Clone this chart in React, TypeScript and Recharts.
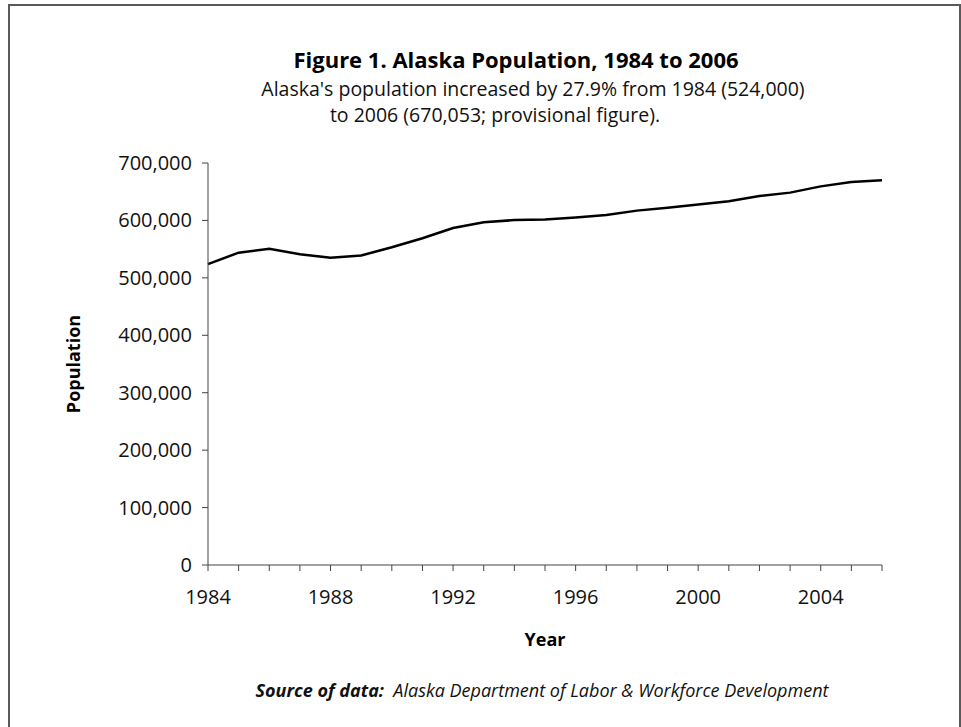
import React from 'react';
import { LineChart, Line, XAxis, YAxis } from 'recharts';

const years = [
  1984, 1985, 1986, 1987, 1988, 1989, 1990, 1991, 1992, 1993, 1994, 1995,
  1996, 1997, 1998, 1999, 2000, 2001, 2002, 2003, 2004, 2005, 2006,
];
const population = [
  524000, 543900, 550700, 541300, 535000, 538900, 553171, 569054, 586722,
  596906, 600622, 601581, 605212, 609655, 617082, 622000, 627533, 633316,
  642691, 648414, 659286, 666946, 670053,
];
const yTicks = [0, 100000, 200000, 300000, 400000, 500000, 600000, 700000];
const labelledYears = [1984, 1988, 1992, 1996, 2000, 2004];

const data = years.map((year, i) => ({ year, population: population[i] }));

const FONT = '"Open Sans", sans-serif';

const YearTick = (props: any) => {
  const { x, y, payload } = props;
  if (!labelledYears.includes(payload.value)) return null;
  return (
    <text x={x} y={y} dy={26} textAnchor="middle" fontFamily={FONT} fontSize={20} fill="#111">
      {payload.value}
    </text>
  );
};

const PopTick = (props: any) => {
  const { x, y, payload } = props;
  return (
    <text x={x} y={y} dy={7} textAnchor="end" fontFamily={FONT} fontSize={20} fill="#111">
      {payload.value.toLocaleString('en-US')}
    </text>
  );
};

// centred text line helper
const Centered = ({ cx, top, style, children }: any) => (
  <div style={{ position: 'absolute', left: cx - 500, top, width: 1000, textAlign: 'center', whiteSpace: 'nowrap', ...style }}>
    {children}
  </div>
);

export default function App() {
  return (
    <div style={{ position: 'absolute', left: 0, top: 0, width: 961, height: 727, overflow: 'hidden', background: '#fff', fontFamily: FONT }}>
      <div style={{ position: 'absolute', left: 8, top: 4, width: 949, height: 760, border: '2px solid #5a5a5a' }} />
      <Centered cx={516} top={44} style={{ fontWeight: 700, fontSize: 22, color: '#000' }}>
        Figure 1. Alaska Population, 1984 to 2006
      </Centered>
      <Centered cx={533} top={75} style={{ fontSize: 19.5, color: '#111' }}>
        Alaska's population increased by 27.9% from 1984 (524,000)
      </Centered>
      <Centered cx={495} top={101} style={{ fontSize: 19.5, color: '#111' }}>
        to 2006 (670,053; provisional figure).
      </Centered>
      <LineChart
        width={961}
        height={727}
        data={data}
        margin={{ top: 163, right: 79, bottom: 132, left: 108 }}
        style={{ position: 'absolute', left: 0, top: 0 }}
      >
        <XAxis
          dataKey="year"
          type="number"
          domain={[1984, 2006]}
          ticks={years}
          interval={0}
          height={30}
          tickSize={6}
          tickMargin={7}
          stroke="#444"
          tick={<YearTick />}
        />
        <YAxis
          type="number"
          domain={[0, 700000]}
          ticks={yTicks}
          interval={0}
          width={100}
          tickSize={6}
          tickMargin={10}
          stroke="#444"
          tick={<PopTick />}
        />
        <Line
          type="linear"
          dataKey="population"
          stroke="#000"
          strokeWidth={2.5}
          dot={false}
          isAnimationActive={false}
        />
      </LineChart>
      <div style={{ position: 'absolute', left: 73, top: 364, transform: 'translate(-50%, -50%) rotate(-90deg)', fontWeight: 700, fontSize: 18, color: '#000', whiteSpace: 'nowrap' }}>
        Population
      </div>
      <Centered cx={545} top={627} style={{ fontWeight: 700, fontSize: 18, color: '#000' }}>
        Year
      </Centered>
      <Centered cx={542} top={678} style={{ fontStyle: 'italic', fontSize: 18, color: '#111' }}>
        <span style={{ fontWeight: 700 }}>Source of data:</span>&nbsp; Alaska Department of Labor &amp; Workforce Development
      </Centered>
    </div>
  );
}
